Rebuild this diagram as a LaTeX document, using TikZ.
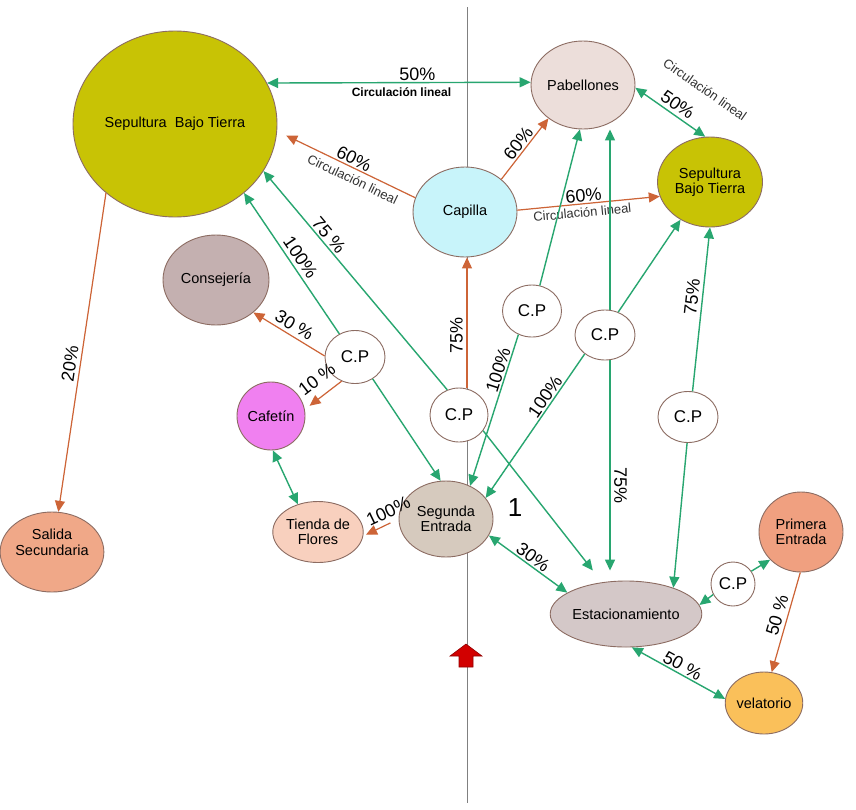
\documentclass[tikz,border=0pt]{standalone}
\usepackage{fontspec}
\setmainfont{Liberation Sans}
\usetikzlibrary{shapes.geometric,arrows.meta}
\definecolor{grn}{RGB}{40,166,112}
\definecolor{org}{RGB}{205,100,55}
\definecolor{bdr}{RGB}{140,108,98}
\definecolor{sepc}{RGB}{200,195,5}
\definecolor{pabc}{RGB}{236,222,218}
\definecolor{capc}{RGB}{200,244,250}
\definecolor{conc}{RGB}{196,176,176}
\definecolor{cafc}{RGB}{240,128,240}
\definecolor{tiec}{RGB}{248,208,190}
\definecolor{salc}{RGB}{240,168,136}
\definecolor{segc}{RGB}{214,202,190}
\definecolor{estc}{RGB}{212,200,200}
\definecolor{pric}{RGB}{240,160,128}
\definecolor{velc}{RGB}{250,192,90}
\definecolor{txtg}{RGB}{50,50,50}
\definecolor{hous}{RGB}{210,0,0}
\tikzset{
  nd/.style={ellipse, draw=bdr, line width=0.9pt, inner sep=0pt, align=center,
    font=\fontsize{14.5}{15.5}\selectfont},
  cpn/.style={nd, fill=white, minimum width=60pt, minimum height=53pt,
    font=\fontsize{17}{18}\selectfont},
  tipg/.tip={Triangle[length=11pt,width=10pt]},
  ga/.style={draw=grn, fill=grn, line width=1.4pt, -tipg},
  gb/.style={draw=grn, fill=grn, line width=1.4pt, tipg-tipg},
  oa/.style={draw=org, fill=org, line width=1.2pt, -tipg},
  pct/.style={font=\fontsize{18}{18}\selectfont, sloped, inner sep=1.5pt, fill=none, text=black},
  circ/.style={font=\fontsize{13}{14}\selectfont, sloped, inner sep=1pt, text=txtg, fill=none},
  circb/.style={font=\bfseries\fontsize{12}{13}\selectfont, inner sep=1.5pt, text=black, fill=none}
}
\begin{document}
\begin{tikzpicture}[x=1pt,y=-1pt]
\useasboundingbox (0,0) rectangle (856,809);
\fill[white] (0,0) rectangle (856,809);
% vertical axis
\coordinate (vt) at (467,7);
\coordinate (vb) at (467,803);
\coordinate (qx) at (610,0);
\draw[gray, line width=0.8pt] (vt) -- (vb);
% nodes
\node[nd, fill=sepc, minimum width=204pt, minimum height=186pt] (bigsep) at (175,124) {Sepultura\ \ Bajo Tierra};
\node[nd, fill=pabc, minimum width=104pt, minimum height=88pt] (pab) at (583,85) {Pabellones};
\node[nd, fill=sepc, minimum width=105pt, minimum height=90pt] (sep) at (710,182) {Sepultura\\Bajo Tierra};
\node[nd, fill=capc, minimum width=104pt, minimum height=90pt] (cap) at (465,212) {Capilla};
\node[nd, fill=conc, minimum width=106pt, minimum height=90pt] (con) at (216,280) {Consejería};
\node[nd, fill=cafc, minimum width=68pt, minimum height=68pt] (caf) at (271,416) {Cafetín};
\node[nd, fill=tiec, minimum width=61pt, minimum height=61pt] (tie) at (318,532) {Tienda de\\Flores};
\node[nd, fill=salc, minimum width=82pt, minimum height=80pt] (sal) at (52,552) {Salida\\Secundaria\\[4pt]};
\node[nd, fill=segc, minimum width=94pt, minimum height=76pt] (seg) at (446,519) {Segunda\\Entrada};
\node[nd, fill=estc, minimum width=134pt, minimum height=66pt] (est) at (626,614) {Estacionamiento};
\node[nd, fill=pric, minimum width=84pt, minimum height=80pt] (pri) at (801,532) {Primera\\Entrada};
\node[nd, fill=velc, minimum width=62pt, minimum height=62pt] (vel) at (764,703) {velatorio};
\node[cpn] (cp1) at (355,357) {C.P};
\node[cpn, minimum width=58pt, minimum height=54pt] (cp2) at (459,415) {C.P};
\node[cpn, minimum width=59pt, minimum height=52pt] (cp3) at (532,311) {C.P};
\node[cpn, minimum width=60pt, minimum height=50pt] (cp4) at (605,335) {C.P};
\node[cpn, minimum width=60pt, minimum height=51pt] (cp5) at (688,417) {C.P};
\node[cpn, minimum width=44pt, minimum height=44pt] (cp6) at (733,584) {C.P};
\node[font=\fontsize{26}{26}\selectfont, inner sep=0pt] (one) at (515,508) {1};
% entrance arrow
\filldraw[fill=hous, draw=hous!70!black, line width=0.6pt] (466,644) -- (482,656) -- (473,656) -- (473,667) -- (459,667) -- (459,656) -- (450,656) -- cycle;
% connectors
\draw[gb] (bigsep.24) -- node[pct, above, pos=0.57]{50\%} node[circb, below=3pt, pos=0.51]{Circulación lineal} (pab.177);
\draw[oa, shorten >=10pt] (cap.164) -- node[pct, above, pos=0.47]{60\%} node[circ, below=4pt, pos=0.42]{Circulación lineal} (bigsep.-4);
\draw[oa] (cap.42) -- node[pct, above, pos=0.5]{60\%} (pab.224);
\draw[oa] (cap.2) -- node[pct, above, pos=0.47]{60\%} node[circ, below=2pt, pos=0.45]{Circulación lineal} (sep.196);
\draw[gb] (pab.-3) -- node[pct, above=2pt, pos=0.52]{50\%} node[circ, above=32pt, pos=0.68]{Circulación lineal} (sep.96);
\draw[ga] (cp1) -- node[pct, above=2pt, pos=0.5]{100\%} (bigsep.-45);
\draw[ga] (cp2.115) -- node[pct, above, pos=0.68]{75 \%} (bigsep.-28);
\draw[oa] (cp1.178) -- node[pct, above=2pt, pos=0.5]{30 \%} (con.-41);
\draw[oa, shorten >=6pt] (cp1.241) -- node[pct, above=8pt, pos=0.4]{10 \%} (caf.11);
\draw[ga] (cp1.-51) -- (seg.98);
\draw[gb] (caf.-87) -- (tie.126);
\draw[oa, shorten <=9pt, shorten >=3pt] (seg.180) -- node[pct, above=3pt, pos=0.15]{100\%} (tie.-5);
\draw[oa] (cp2.north -| vt) -- node[pct, above=2pt, pos=0.4]{75\%} (cap.south -| vt);
\draw[ga, shorten >=15pt] (cp2.-33) -- (est.127);
\draw[ga] (cp3.73) -- (pab.266);
\draw[ga] (cp3.240) -- node[pct, above, pos=0.25]{100\%} (seg.54);
\draw[ga] (cp4.north -| qx) -- (pab.south -| qx);
\draw[ga] (cp4.60) -- (sep.232);
\draw[ga] (cp4.223) -- node[pct, above, pos=0.33]{100\%} (seg.28);
\draw[ga, shorten >=10pt] (cp4.south -| qx) -- node[pct, above=2pt, pos=0.57]{75\%} (est.north -| qx);
\draw[ga] (cp5.80) -- node[pct, above=2pt, pos=0.57]{75\%} (sep.270);
\draw[ga] (cp5.268) -- (est.29);
\draw[gb] (seg.-21) -- node[pct, above, pos=0.5]{30\%} (est.160);
\draw[ga] (cp6.208) -- (est.7);
\draw[ga] (cp6.35) -- (pri.222);
\draw[oa] (pri.-91) -- node[pct, above=2pt, pos=0.46]{50 \%} (vel.76);
\draw[gb] (est.-80) -- node[pct, above, pos=0.5]{50 \%} (vel.174);
\draw[oa] (bigsep.225) -- node[pct, above=2pt, pos=0.54]{20\%} (sal.81);
\end{tikzpicture}
\end{document}
